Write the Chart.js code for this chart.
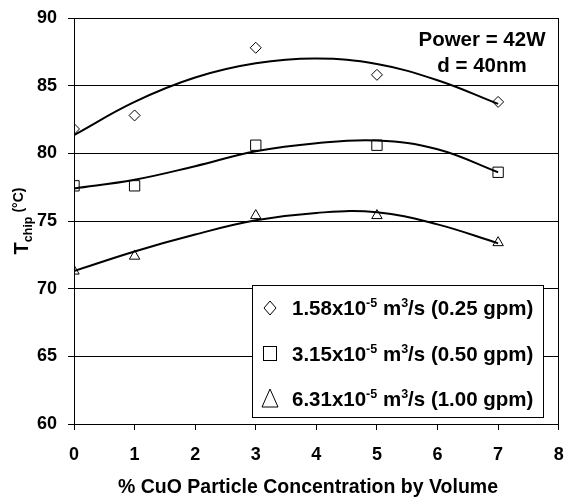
<!DOCTYPE html>
<html>
<head>
<meta charset="utf-8">
<script src="https://cdn.jsdelivr.net/npm/chart.js@4/dist/chart.umd.min.js"></script>
<style>
  html, body { margin: 0; padding: 0; background: #fff; }
  #wrap { width: 567px; height: 498px; position: relative; }
</style>
</head>
<body>
<div id="wrap"><canvas id="c" width="567" height="498"></canvas></div>
<script>
// ---- data ----
const concentrations = [0, 1, 3, 5, 7];
const tchip_025gpm = [81.8, 82.8, 87.8, 85.8, 83.8];
const tchip_050gpm = [77.6, 77.6, 80.6, 80.6, 78.6];
const tchip_100gpm = [71.3, 72.4, 75.4, 75.4, 73.4];
// trendline curves, at x = 0..7
const trendX = [0, 1, 2, 3, 4, 5, 6, 7];
const trend_025gpm = [81.35, 83.8, 85.6, 86.65, 87.0, 86.6, 85.4, 83.65];
const trend_050gpm = [77.4, 78.05, 79.05, 80.15, 80.75, 80.95, 80.3, 78.6];
const trend_100gpm = [71.3, 72.75, 74.0, 75.05, 75.6, 75.65, 74.75, 73.35];
const xTicks = [0, 1, 2, 3, 4, 5, 6, 7, 8];
const yTicks = [60, 65, 70, 75, 80, 85, 90];
const legendLabels = [
  ['1.58x10', '-5', ' m', '3', '/s (0.25 gpm)'],
  ['3.15x10', '-5', ' m', '3', '/s (0.50 gpm)'],
  ['6.31x10', '-5', ' m', '3', '/s (1.00 gpm)']
];
const noteLines = ['Power = 42W', 'd = 40nm'];
const xTitle = '% CuO Particle Concentration by Volume';

const pair = (xs, ys) => xs.map((x, i) => ({ x: x, y: ys[i] }));

const FONT = '"Liberation Sans", Arial, Helvetica, sans-serif';
Chart.defaults.font.family = FONT;
Chart.defaults.font.weight = 'bold';
Chart.defaults.color = '#000';

const trendStyle = { type: 'line', borderColor: '#000', borderWidth: 2, pointRadius: 0, fill: false, tension: 0.4, order: 2 };
const markStyle = { type: 'scatter', borderColor: '#000', backgroundColor: 'rgba(0,0,0,0)', borderWidth: 1, order: 1 };

const decor = {
  id: 'decor',
  afterDraw(chart) {
    const ctx = chart.ctx, a = chart.chartArea;
    ctx.save();
    // plot frame
    ctx.strokeStyle = '#000'; ctx.lineWidth = 1;
    ctx.strokeRect(Math.round(a.left) + 0.5, Math.round(a.top) + 0.5, Math.round(a.right - a.left) - 1, Math.round(a.bottom - a.top));
    // note
    ctx.fillStyle = '#000';
    ctx.textAlign = 'center'; ctx.textBaseline = 'middle';
    ctx.font = 'bold 20.5px ' + FONT;
    ctx.fillText(noteLines[0], 482, 40);
    ctx.fillText(noteLines[1], 482, 66);
    // legend box
    const lx = 252, ly = 285, lw = 291, lh = 132;
    ctx.fillStyle = '#fff';
    ctx.fillRect(lx, ly, lw, lh);
    ctx.strokeRect(lx + 0.5, ly + 0.5, lw, lh);
    const rowsY = [308, 354, 399];
    ctx.strokeStyle = '#000'; ctx.lineWidth = 1;
    // diamond
    let mx = 270, my = rowsY[0];
    ctx.beginPath(); ctx.moveTo(mx, my - 7); ctx.lineTo(mx + 6, my); ctx.lineTo(mx, my + 7); ctx.lineTo(mx - 6, my); ctx.closePath(); ctx.stroke();
    // square
    my = rowsY[1];
    ctx.strokeRect(mx - 6.5, my - 7.5, 13, 14);
    // triangle
    my = rowsY[2];
    ctx.beginPath(); ctx.moveTo(mx, my - 10); ctx.lineTo(mx + 8, my + 8); ctx.lineTo(mx - 8, my + 8); ctx.closePath(); ctx.stroke();
    // legend text with superscripts
    ctx.fillStyle = '#000'; ctx.textAlign = 'left'; ctx.textBaseline = 'alphabetic';
    legendLabels.forEach((parts, r) => {
      let x = 292; const base = rowsY[r] + 7;
      parts.forEach((p, k) => {
        const sup = (k % 2 === 1);
        ctx.font = sup ? 'bold 12.5px ' + FONT : 'bold 20.5px ' + FONT;
        ctx.fillText(p, x, sup ? base - 8 : base);
        x += ctx.measureText(p).width;
      });
    });
    // x title
    ctx.textAlign = 'center'; ctx.textBaseline = 'middle';
    ctx.font = 'bold 19.5px ' + FONT;
    ctx.fillText(xTitle, 308, 488);
    // y title (rotated)
    ctx.translate(21, 221);
    ctx.rotate(-Math.PI / 2);
    const partsY = [['T', 'bold 20px ', 0], ['chip', 'bold 12.5px ', 4], [' (\u00B0C)', 'bold 14px ', -5]];
    let tw = 0;
    partsY.forEach(p => { ctx.font = p[1] + FONT; tw += ctx.measureText(p[0]).width; });
    let px = -tw / 2;
    ctx.textAlign = 'left'; ctx.textBaseline = 'alphabetic';
    partsY.forEach(p => { ctx.font = p[1] + FONT; ctx.fillText(p[0], px, 7 + p[2]); px += ctx.measureText(p[0]).width; });
    ctx.restore();
  }
};

new Chart(document.getElementById('c'), {
  data: {
    datasets: [
      Object.assign({ label: 'trend 0.25', data: pair(trendX, trend_025gpm) }, trendStyle),
      Object.assign({ label: 'trend 0.50', data: pair(trendX, trend_050gpm) }, trendStyle),
      Object.assign({ label: 'trend 1.00', data: pair(trendX, trend_100gpm) }, trendStyle),
      Object.assign({ label: '0.25 gpm', data: pair(concentrations, tchip_025gpm), pointStyle: 'rectRot', pointRadius: 5.5 }, markStyle),
      Object.assign({ label: '0.50 gpm', data: pair(concentrations, tchip_050gpm), pointStyle: 'rect', pointRadius: 7.3 }, markStyle),
      Object.assign({ label: '1.00 gpm', data: pair(concentrations, tchip_100gpm), pointStyle: 'triangle', pointRadius: 6 }, markStyle)
    ]
  },
  options: {
    responsive: false,
    animation: false,
    events: [],
    layout: { padding: { top: 18, right: 7, left: 0, bottom: 0 } },
    plugins: { legend: { display: false }, tooltip: { enabled: false } },
    scales: {
      x: {
        type: 'linear', min: xTicks[0], max: xTicks[xTicks.length - 1],
        afterBuildTicks: s => { s.ticks = xTicks.map(v => ({ value: v })); },
        afterFit: s => { s.height = 74; s.paddingLeft = 0; s.paddingRight = 0; },
        grid: { drawOnChartArea: false, drawTicks: true, tickLength: 6, color: '#000', lineWidth: 1 },
        border: { display: true, color: '#000', width: 1 },
        ticks: { padding: 14, font: { size: 18, weight: 'bold' }, color: '#000', maxRotation: 0 }
      },
      y: {
        type: 'linear', min: yTicks[0], max: yTicks[yTicks.length - 1],
        afterBuildTicks: s => { s.ticks = yTicks.map(v => ({ value: v })); },
        afterFit: s => { s.width = 74; s.paddingTop = 0; s.paddingBottom = 0; },
        grid: { drawOnChartArea: true, drawTicks: true, tickLength: 6, color: '#000', lineWidth: 1 },
        border: { display: true, color: '#000', width: 1 },
        ticks: { padding: 11, font: { size: 18, weight: 'bold' }, color: '#000' }
      }
    }
  },
  plugins: [decor]
});
</script>
</body>
</html>
